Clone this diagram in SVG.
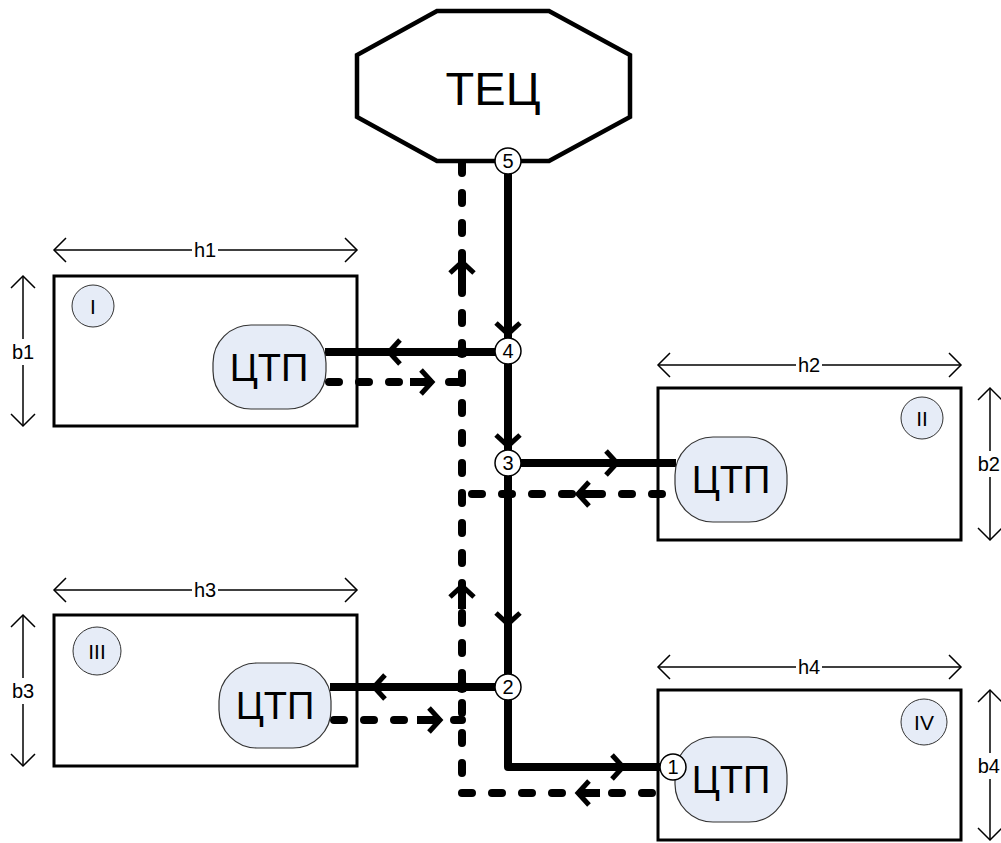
<svg xmlns="http://www.w3.org/2000/svg" xmlns:xlink="http://www.w3.org/1999/xlink" width="1001" height="843" viewBox="0 0 1001 843">
  <style>
    .zone { fill: #ffffff; stroke: #000; stroke-width: 3; }
    .dim { fill: none; stroke: #000; stroke-width: 1.5; }
    .dimtxt { font-family: "Liberation Sans", Arial, sans-serif; font-size: 20px; fill: #000; text-anchor: middle; dominant-baseline: central; }
    .dimtxt.edge { text-anchor: end; }
    .tag { fill: #e6ecf7; stroke: #333; stroke-width: 1; }
    .tagtxt { font-family: "Liberation Sans", Arial, sans-serif; font-size: 21px; fill: #000; text-anchor: middle; dominant-baseline: central; }
    .ctp { fill: #e6ecf7; stroke: #333; stroke-width: 1.2; }
    .ctptxt { font-family: "Liberation Sans", Arial, sans-serif; font-size: 38px; fill: #000; text-anchor: middle; dominant-baseline: central; }
    .supply { fill: none; stroke: #000; stroke-width: 8; stroke-linejoin: round; stroke-linecap: butt; }
    .ret { fill: none; stroke: #000; stroke-width: 8; stroke-dasharray: 10 20; stroke-linecap: round; }
    .chev { fill: none; stroke: #000; stroke-width: 5; stroke-linecap: butt; stroke-linejoin: miter; }
    .pt { fill: #fff; stroke: #000; stroke-width: 1.5; }
    .pttxt { font-family: "Liberation Sans", Arial, sans-serif; font-size: 20px; fill: #000; text-anchor: middle; dominant-baseline: central; }
  </style>
  <defs>
    <!-- flow chevron, tip at origin, pointing along +x -->
    <path id="chev" class="chev" d="M-11,-12 L0,0 L-11,12"/>
    <!-- open dimension arrowhead, tip at origin, pointing along +x -->
    <path id="dimhead" class="dim" d="M-12,-12 L0,0 L-12,12"/>
  </defs>

  <!-- heat plant -->
  <g id="tec">
    <polygon points="437,11 549,11 630,55 630,117 549,161 437,161 357,117 357,55" fill="#fff" stroke="#000" stroke-width="4.5" stroke-linejoin="miter"/>
    <text x="493" y="88" font-family="Liberation Sans, Arial, sans-serif" font-size="47" text-anchor="middle" dominant-baseline="central">ТЕЦ</text>
  </g>

  <!-- district I -->
  <g id="zone-1">
    <rect class="zone" x="54" y="276" width="303" height="150"/>
    <line class="dim" x1="54" y1="250" x2="192" y2="250"/>
    <line class="dim" x1="218" y1="250" x2="357" y2="250"/>
    <use xlink:href="#dimhead" transform="translate(54,250) rotate(180)"/>
    <use xlink:href="#dimhead" transform="translate(357,250)"/>
    <text class="dimtxt" x="205" y="250">h1</text>
    <line class="dim" x1="23" y1="276" x2="23" y2="339"/>
    <line class="dim" x1="23" y1="365" x2="23" y2="426"/>
    <use xlink:href="#dimhead" transform="translate(23,276) rotate(-90)"/>
    <use xlink:href="#dimhead" transform="translate(23,426) rotate(90)"/>
    <text class="dimtxt" x="23" y="352">b1</text>
    <circle class="tag" cx="93" cy="306" r="21"/>
    <text class="tagtxt" x="93" y="306">I</text>
  </g>

  <!-- district II -->
  <g id="zone-2">
    <rect class="zone" x="658" y="388" width="303" height="152"/>
    <line class="dim" x1="658" y1="365" x2="796" y2="365"/>
    <line class="dim" x1="822" y1="365" x2="961" y2="365"/>
    <use xlink:href="#dimhead" transform="translate(658,365) rotate(180)"/>
    <use xlink:href="#dimhead" transform="translate(961,365)"/>
    <text class="dimtxt" x="809" y="365">h2</text>
    <line class="dim" x1="990" y1="388" x2="990" y2="451"/>
    <line class="dim" x1="990" y1="477" x2="990" y2="540"/>
    <use xlink:href="#dimhead" transform="translate(990,388) rotate(-90)"/>
    <use xlink:href="#dimhead" transform="translate(990,540) rotate(90)"/>
    <text class="dimtxt edge" x="1000" y="464">b2</text>
    <circle class="tag" cx="922" cy="418" r="21"/>
    <text class="tagtxt" x="922" y="418">II</text>
  </g>

  <!-- district III -->
  <g id="zone-3">
    <rect class="zone" x="54" y="615" width="303" height="151"/>
    <line class="dim" x1="54" y1="590" x2="192" y2="590"/>
    <line class="dim" x1="218" y1="590" x2="357" y2="590"/>
    <use xlink:href="#dimhead" transform="translate(54,590) rotate(180)"/>
    <use xlink:href="#dimhead" transform="translate(357,590)"/>
    <text class="dimtxt" x="205" y="590">h3</text>
    <line class="dim" x1="23" y1="615" x2="23" y2="678"/>
    <line class="dim" x1="23" y1="704" x2="23" y2="766"/>
    <use xlink:href="#dimhead" transform="translate(23,615) rotate(-90)"/>
    <use xlink:href="#dimhead" transform="translate(23,766) rotate(90)"/>
    <text class="dimtxt" x="23" y="691">b3</text>
    <circle class="tag" cx="97" cy="651" r="24"/>
    <text class="tagtxt" x="97" y="651">III</text>
  </g>

  <!-- district IV -->
  <g id="zone-4">
    <rect class="zone" x="658" y="690" width="303" height="150"/>
    <line class="dim" x1="658" y1="667" x2="796" y2="667"/>
    <line class="dim" x1="822" y1="667" x2="961" y2="667"/>
    <use xlink:href="#dimhead" transform="translate(658,667) rotate(180)"/>
    <use xlink:href="#dimhead" transform="translate(961,667)"/>
    <text class="dimtxt" x="809" y="667">h4</text>
    <line class="dim" x1="990" y1="690" x2="990" y2="753"/>
    <line class="dim" x1="990" y1="779" x2="990" y2="840"/>
    <use xlink:href="#dimhead" transform="translate(990,690) rotate(-90)"/>
    <use xlink:href="#dimhead" transform="translate(990,840) rotate(90)"/>
    <text class="dimtxt edge" x="1000" y="766">b4</text>
    <circle class="tag" cx="924" cy="722" r="23"/>
    <text class="tagtxt" x="924" y="722">IV</text>
  </g>

  <!-- pipework: solid = supply, dashed = return -->
  <g id="connectors">
    <!-- supply main -->
    <path class="supply" d="M508,168 L508,767 L662,767"/>
    <line class="supply" x1="325" y1="352" x2="508" y2="352"/>
    <line class="supply" x1="508" y1="463" x2="676" y2="463"/>
    <line class="supply" x1="330" y1="687" x2="508" y2="687"/>
    <!-- return main -->
    <path class="ret" d="M462,163 L462,793 L662,793"/>
    <line class="ret" x1="662" y1="494" x2="462" y2="494"/>
    <line class="ret" x1="329" y1="382" x2="462" y2="382"/>
    <line class="ret" x1="334" y1="720" x2="462" y2="720"/>
    <!-- crossing marks -->
    <circle cx="462" cy="352" r="6"/>
    <circle cx="462" cy="687" r="6"/>
    <!-- supply direction -->
    <use xlink:href="#chev" transform="translate(508,334) rotate(90)"/>
    <use xlink:href="#chev" transform="translate(508,446) rotate(90)"/>
    <use xlink:href="#chev" transform="translate(508,624) rotate(90)"/>
    <use xlink:href="#chev" transform="translate(389,352) rotate(180)"/>
    <use xlink:href="#chev" transform="translate(617,463)"/>
    <use xlink:href="#chev" transform="translate(374,687) rotate(180)"/>
    <use xlink:href="#chev" transform="translate(623,767)"/>
    <!-- return direction -->
    <line x1="410" y1="382" x2="432" y2="382" stroke="#000" stroke-width="8"/>
    <use xlink:href="#chev" transform="translate(432,382)"/>
    <line x1="417" y1="720" x2="440" y2="720" stroke="#000" stroke-width="8"/>
    <use xlink:href="#chev" transform="translate(440,720)"/>
    <line x1="578" y1="494" x2="600" y2="494" stroke="#000" stroke-width="8"/>
    <use xlink:href="#chev" transform="translate(578,494) rotate(180)"/>
    <line x1="578" y1="793" x2="600" y2="793" stroke="#000" stroke-width="8"/>
    <use xlink:href="#chev" transform="translate(578,793) rotate(180)"/>
    <line x1="462" y1="262" x2="462" y2="285" stroke="#000" stroke-width="8"/>
    <use xlink:href="#chev" transform="translate(462,262) rotate(-90)"/>
    <line x1="462" y1="586" x2="462" y2="609" stroke="#000" stroke-width="8"/>
    <use xlink:href="#chev" transform="translate(462,586) rotate(-90)"/>
  </g>

  <!-- substations -->
  <g id="ctp-1">
    <rect class="ctp" x="213" y="325" width="113" height="84" rx="38" ry="38"/>
    <text class="ctptxt" x="269" y="368">ЦТП</text>
  </g>
  <g id="ctp-2">
    <rect class="ctp" x="675" y="437" width="112" height="85" rx="38" ry="38"/>
    <text class="ctptxt" x="731" y="480">ЦТП</text>
  </g>
  <g id="ctp-3">
    <rect class="ctp" x="219" y="663" width="112" height="85" rx="38" ry="38"/>
    <text class="ctptxt" x="275" y="706">ЦТП</text>
  </g>
  <g id="ctp-4">
    <rect class="ctp" x="675" y="737" width="112" height="85" rx="38" ry="38"/>
    <text class="ctptxt" x="731" y="780">ЦТП</text>
  </g>

  <!-- numbered junctions -->
  <g id="pt-5">
    <circle class="pt" cx="508" cy="161" r="13"/>
    <text class="pttxt" x="508" y="161">5</text>
  </g>
  <g id="pt-4">
    <circle class="pt" cx="508" cy="351" r="13"/>
    <text class="pttxt" x="508" y="351">4</text>
  </g>
  <g id="pt-3">
    <circle class="pt" cx="508" cy="463" r="13"/>
    <text class="pttxt" x="508" y="463">3</text>
  </g>
  <g id="pt-2">
    <circle class="pt" cx="508" cy="687" r="13"/>
    <text class="pttxt" x="508" y="687">2</text>
  </g>
  <g id="pt-1">
    <circle class="pt" cx="673" cy="767" r="13"/>
    <text class="pttxt" x="673" y="767">1</text>
  </g>
</svg>
